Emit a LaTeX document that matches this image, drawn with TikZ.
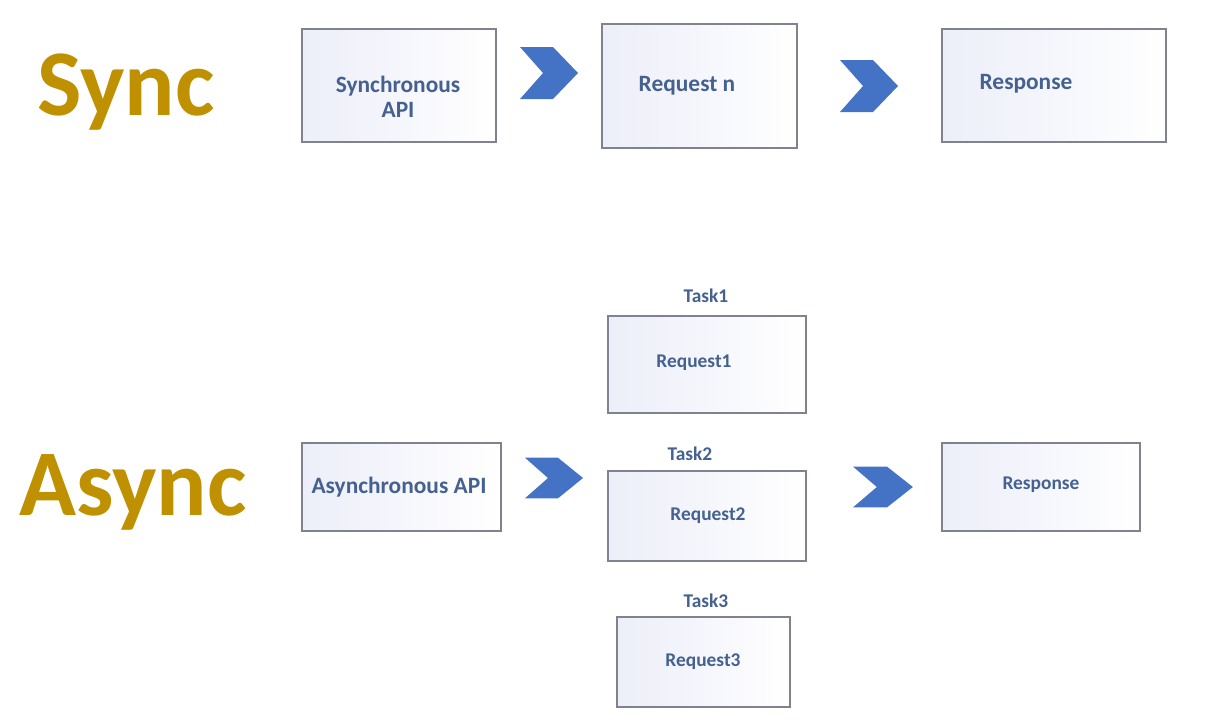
\documentclass[tikz,border=0pt]{standalone}
\usepackage{fontspec}
\setmainfont{Carlito}
\definecolor{gold}{HTML}{BF9000}
\definecolor{chevcol}{HTML}{4472C4}
\definecolor{txtcol}{HTML}{44618F}
\definecolor{boxline}{HTML}{80828F}
\definecolor{boxfill}{HTML}{ECEEF9}
\tikzset{
  box/.style={draw=boxline, line width=1.4pt, left color=boxfill, right color=white, inner sep=0pt},
  btxt/.style={text=txtcol, font=\bfseries\fontsize{23.4}{25}\selectfont, align=center, inner sep=0pt},
  stxt/.style={text=txtcol, font=\bfseries\fontsize{19.4}{22}\selectfont, align=center, inner sep=0pt},
  title/.style={text=gold, font=\bfseries\fontsize{94}{100}\selectfont, inner sep=0pt, anchor=base west},
  pics/chev/.style={code={\fill[chevcol] (-29,-26)--(4,-26)--(29,0)--(4,26)--(-29,26)--(-6,0)--cycle;}}
}
\begin{document}
\begin{tikzpicture}[x=1pt,y=-1pt]
\useasboundingbox[fill=white] (0,0) rectangle (1217,721);
% titles
\node[title] (sync) at (37,115) {Sync};
\node[title] (async) at (19,515) {Async};
% sync row
\node[box, minimum width=194pt, minimum height=113pt] (sapi) at (399,85.5) {};
\node[btxt] (sapit) at (398,97) {Synchronous\\API};
\node[box, minimum width=195pt, minimum height=124pt] (reqn) at (699.5,86) {};
\node[btxt] (reqnt) at (687,86) {Request n};
\node[box, minimum width=224pt, minimum height=113pt] (resp) at (1054,85.5) {};
\node[btxt] (respt) at (1026,84) {Response};
\pic at (549,73) {chev};
\pic at (869,86) {chev};
% async row
\node[box, minimum width=199pt, minimum height=88pt] (aapi) at (401.5,487) {};
\node[btxt] (aapit) at (399,487) {Asynchronous API};
\node[stxt] (task1) at (706,296) {Task1};
\node[box, minimum width=198pt, minimum height=97pt] (r1) at (707,364.5) {};
\node[stxt] (r1t) at (694,363) {Request1};
\node[stxt] (task2) at (690,454) {Task2};
\node[box, minimum width=198pt, minimum height=90pt] (r2) at (707,516) {};
\node[stxt] (r2t) at (708,516) {Request2};
\node[stxt] (task3) at (706,601) {Task3};
\node[box, minimum width=173pt, minimum height=90pt] (r3) at (703.5,662) {};
\node[stxt] (r3t) at (703,662) {Request3};
\node[box, minimum width=198pt, minimum height=88pt] (aresp) at (1041,487) {};
\node[stxt] (arespt) at (1041,485) {Response};
\pic[yscale=0.78] at (554,478) {chev};
\pic[yscale=0.78,xscale=1.03] at (883,487) {chev};
\end{tikzpicture}
\end{document}
